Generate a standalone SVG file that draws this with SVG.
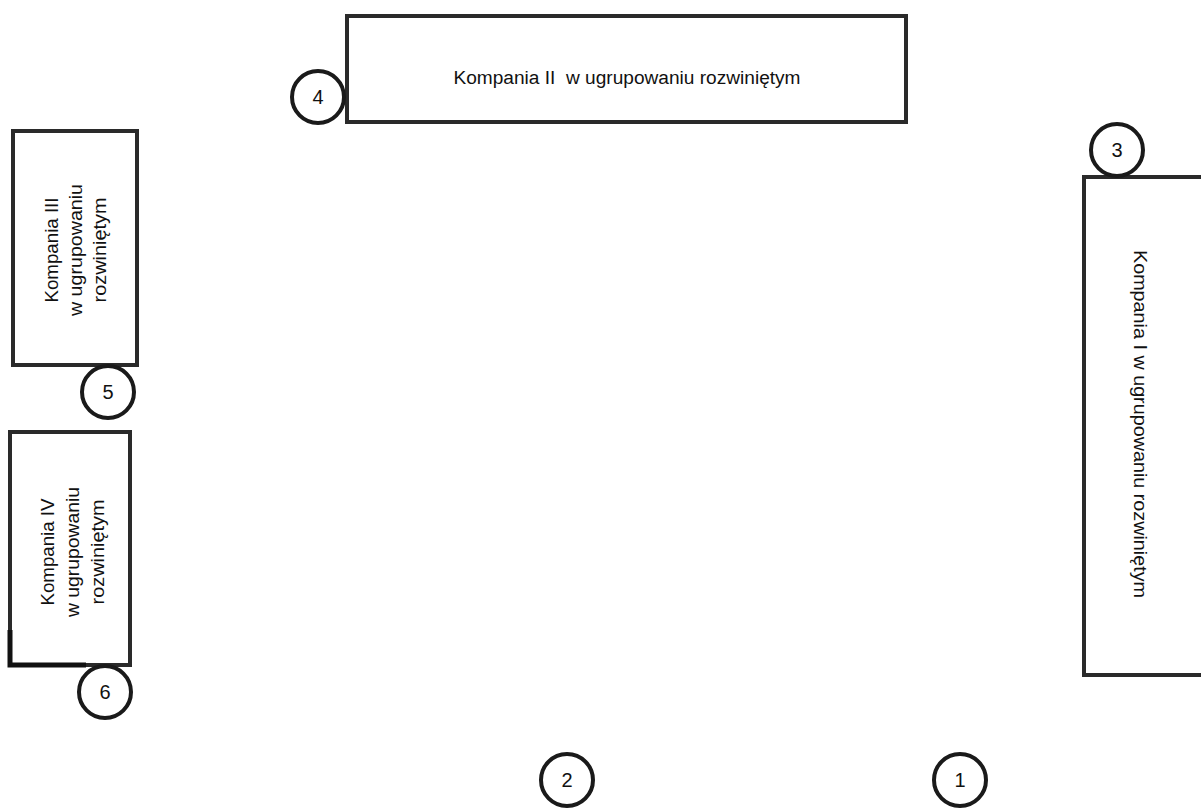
<svg xmlns="http://www.w3.org/2000/svg" width="1201" height="811" viewBox="0 0 1201 811">
<style>
.box{fill:#fff;stroke:#2a2a2a;stroke-width:4}
.circ{fill:#fff;stroke:#1a1a1a;stroke-width:4}
.lbl{font-family:"Liberation Sans",Arial,sans-serif;font-size:18px;fill:#111;text-anchor:middle}
.num{font-family:"Liberation Sans",Arial,sans-serif;font-size:20px;fill:#111;text-anchor:middle}
</style>
<rect width="1201" height="811" fill="#fff"/>
<g id="kompania-II">
<rect class="box" x="347" y="16" width="559" height="106"/>
<text class="lbl" x="627" y="84" textLength="347" lengthAdjust="spacingAndGlyphs" xml:space="preserve">Kompania II  w ugrupowaniu rozwiniętym</text>
</g>
<g id="kompania-III">
<rect class="box" x="13" y="131" width="124" height="234"/>
<g transform="translate(82,250) rotate(-90)">
<text class="lbl" x="0" y="-24" textLength="105" lengthAdjust="spacingAndGlyphs">Kompania III</text>
<text class="lbl" x="0" y="0" textLength="132" lengthAdjust="spacingAndGlyphs">w ugrupowaniu</text>
<text class="lbl" x="0" y="24" textLength="105" lengthAdjust="spacingAndGlyphs">rozwiniętym</text>
</g>
</g>
<g id="kompania-IV">
<rect class="box" x="10" y="432" width="120" height="233"/>
<path d="M10 630 V665 H86" fill="none" stroke="#111" stroke-width="5"/>
<g transform="translate(79,552) rotate(-90)">
<text class="lbl" x="0" y="-25" textLength="107" lengthAdjust="spacingAndGlyphs">Kompania IV</text>
<text class="lbl" x="0" y="0" textLength="130" lengthAdjust="spacingAndGlyphs">w ugrupowaniu</text>
<text class="lbl" x="0" y="25" textLength="105" lengthAdjust="spacingAndGlyphs">rozwiniętym</text>
</g>
</g>
<g id="kompania-I">
<rect class="box" x="1084" y="177" width="130" height="498"/>
<text class="lbl" transform="translate(1134,424) rotate(90)" x="0" y="0" textLength="348" lengthAdjust="spacingAndGlyphs">Kompania I w ugrupowaniu rozwiniętym</text>
</g>
<g id="c4"><circle class="circ" cx="318" cy="97" r="26"/><text class="num" x="318" y="104">4</text></g>
<g id="c3"><circle class="circ" cx="1117" cy="150" r="26"/><text class="num" x="1117" y="157">3</text></g>
<g id="c5"><circle class="circ" cx="108" cy="392" r="26"/><text class="num" x="108" y="399">5</text></g>
<g id="c6"><circle class="circ" cx="105" cy="692" r="26"/><text class="num" x="105" y="699">6</text></g>
<g id="c2"><circle class="circ" cx="567" cy="780" r="26"/><text class="num" x="567" y="787">2</text></g>
<g id="c1"><circle class="circ" cx="960" cy="780" r="26"/><text class="num" x="960" y="787">1</text></g>
<g id="connectors"></g>
</svg>
